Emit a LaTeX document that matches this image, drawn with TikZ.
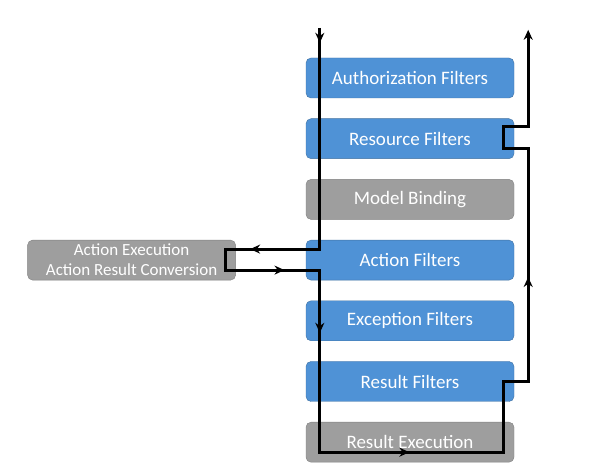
\documentclass[tikz,border=0pt]{standalone}
\usepackage{fontspec}
\setmainfont{Carlito}
\usetikzlibrary{shapes.geometric, arrows.meta, positioning, decorations.markings}

\begin{document}
\begin{tikzpicture}[x=1pt, y=1pt, node distance=60.7pt]

\definecolor{filterblue}{RGB}{79,146,214}
\definecolor{filteredge}{RGB}{65,113,160}
\definecolor{stagegrey}{RGB}{158,158,158}
\definecolor{stageedge}{RGB}{128,128,128}

\tikzstyle{filter} = [rectangle, rounded corners=5pt, draw=filteredge, fill=filterblue, text=white, minimum width=208pt, minimum height=40pt, font=\fontsize{19}{23}\selectfont]
\tikzstyle{stage} = [filter, draw=stageedge, fill=stagegrey]
\tikzstyle{flow} = [line width=3pt, draw=black, line join=miter]
\tikzset{midarrow/.style={postaction={decorate, decoration={markings, mark=at position #1 with {\arrow{Stealth[length=10pt, width=9pt]}}}}}}

\useasboundingbox (0,0) rectangle (598,-465);

\node[filter] (auth) at (410,-78) {Authorization Filters};
\node[filter, below of=auth] (resrc) {Resource Filters};
\node[stage, below of=resrc] (model) {Model Binding};
\node[filter, below of=model] (act) {Action Filters};
\node[filter, below of=act] (exc) {Exception Filters};
\node[filter, below of=exc] (resf) {Result Filters};
\node[stage, below of=resf] (exec) {Result Execution};

\node[stage, left=70pt of act, align=center, inner sep=1pt, font=\fontsize{17}{20}\selectfont] (actexec) {Action Execution\\Action Result Conversion};

% points the request passes
\coordinate (in) at ([xshift=14pt, yshift=30pt]auth.north west);
\coordinate (call) at ([xshift=14pt, yshift=11pt]act.west);
\coordinate (back) at ([xshift=14pt, yshift=-10pt]act.west);
\coordinate (turn) at ([xshift=-10pt]actexec.east);
\coordinate (bottom) at ([xshift=14pt, yshift=-10pt]exec.west);
\coordinate (jog) at ([xshift=-11pt]resf.east);
\coordinate (rail) at ([xshift=14pt]resf.east);
\coordinate (rin) at ([yshift=-10pt]resrc.east);
\coordinate (rout) at ([yshift=12pt]resrc.east);
\coordinate (out) at ([xshift=14pt, yshift=28pt]auth.north east);

\draw[flow, -{Stealth[length=10pt, width=9pt]}, midarrow=15pt, midarrow=291pt, midarrow=395pt, midarrow=493pt, midarrow=702pt, midarrow=996pt]
  (in) -- (call) -- (call -| turn) -- (back -| turn) -- (back) -- (bottom)
  -- (bottom -| jog) -- (jog |- resf) -- (rail |- resf) -- (rail |- rin)
  -- (jog |- rin) -- (jog |- rout) -- (rail |- rout) -- (out);

\end{tikzpicture}
\end{document}
